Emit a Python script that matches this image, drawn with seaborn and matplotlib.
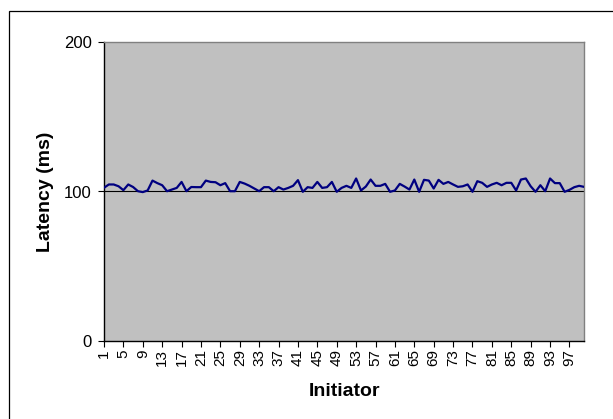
import numpy as np
import pandas as pd
import matplotlib
matplotlib.use('Agg')
import matplotlib.pyplot as plt
import seaborn as sns
from matplotlib.patches import Rectangle

# Latency per initiator
initiator = list(range(1, 101))
latency = [102.5, 104.7, 104.7, 103.5, 100.9, 104.7, 103.0, 100.2, 99.6, 100.7,
           107.3, 105.6, 104.2, 100.2, 101.3, 102.4, 106.4, 100.2, 103.0, 102.9,
           102.9, 107.3, 106.4, 106.2, 104.2, 105.6, 100.2, 100.2, 106.4, 105.3,
           103.8, 102.0, 100.2, 102.9, 102.9, 100.2, 102.9, 101.3, 102.4, 103.8,
           107.6, 99.8, 102.9, 102.4, 106.4, 102.4, 102.9, 106.4, 99.8, 102.4,
           103.8, 102.4, 108.7, 100.7, 103.3, 108.0, 103.8, 103.8, 105.1, 99.8,
           100.7, 105.1, 103.3, 101.3, 108.0, 99.8, 107.8, 107.3, 102.0, 107.8,
           105.1, 106.4, 104.7, 103.1, 103.5, 104.7, 99.8, 106.9, 105.8, 103.1,
           104.7, 105.8, 104.2, 105.8, 105.8, 100.7, 108.0, 108.7, 103.5, 99.8,
           104.2, 100.2, 108.7, 105.6, 105.6, 99.8, 101.1, 102.9, 103.8, 103.1]
y_ticks = [0, 100, 200]
x_ticks = list(range(1, 101, 4))

df = pd.DataFrame({'Initiator': initiator, 'Latency': latency})

sns.set_style('white')
plt.rcParams['font.family'] = ['Liberation Sans', 'DejaVu Sans']
plt.rcParams['text.color'] = 'black'
plt.rcParams['axes.labelcolor'] = 'black'
plt.rcParams['xtick.color'] = 'black'
plt.rcParams['ytick.color'] = 'black'

fig = plt.figure(figsize=(6.13, 4.19), dpi=100)
ax = fig.add_axes([104 / 613, 1 - 341 / 419, 480 / 613, 299 / 419])
ax.set_facecolor('#C0C0C0')

ax.axhline(100, color='black', lw=0.8, zorder=1)
sns.lineplot(data=df, x='Initiator', y='Latency', ax=ax, color='#000080', lw=1.6, zorder=3)

ax.set_xlim(1, 100)
ax.set_ylim(0, 200)
ax.set_yticks(y_ticks)
ax.set_xticks(x_ticks)
ax.set_xticklabels([str(t) for t in x_ticks], rotation=90, fontsize=11)
ax.set_yticklabels([str(t) for t in y_ticks], fontsize=12)
ax.tick_params(axis='both', direction='out', length=4, width=0.8, colors='black',
               bottom=True, left=True)
ax.tick_params(axis='x', pad=2)
ax.tick_params(axis='y', pad=5)

ax.set_xlabel('Initiator', fontsize=14, fontweight='bold')
ax.set_ylabel('Latency (ms)', fontsize=14, fontweight='bold')
ax.xaxis.set_label_coords(0.5, -0.14)
ax.yaxis.set_label_coords(-0.104, 0.5)

for side in ['left', 'bottom']:
    ax.spines[side].set_color('black')
    ax.spines[side].set_linewidth(1.0)
for side in ['top', 'right']:
    ax.spines[side].set_color('#808080')
    ax.spines[side].set_linewidth(1.0)

# outer chart border (right and bottom edges fall outside the image)
fig.patches.append(Rectangle((9 / 613, -0.05), 1.2, 1 - 11 / 419 + 0.05,
                             transform=fig.transFigure, fill=False,
                             edgecolor='black', lw=0.9))

fig.savefig('out.png', dpi=100)
